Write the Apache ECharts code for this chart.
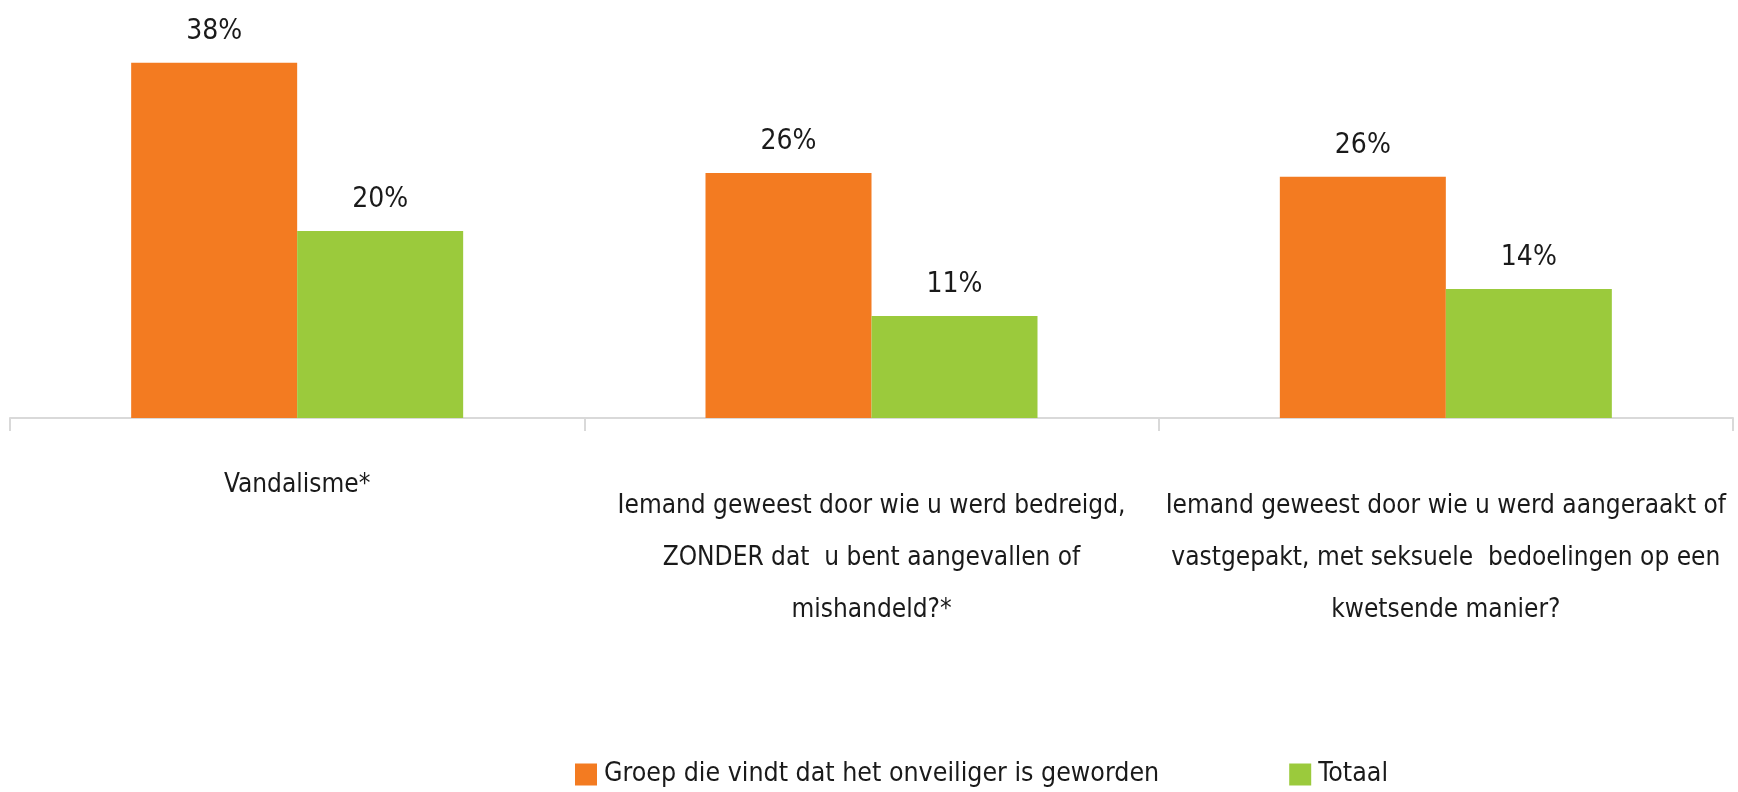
<!DOCTYPE html>
<html>
<head>
<meta charset="utf-8">
<script src="https://cdn.jsdelivr.net/npm/echarts@6/dist/echarts.min.js"></script>
<style>
  html, body { margin: 0; padding: 0; background: #fff; }
  #chart { width: 1738px; height: 792px; }
</style>
</head>
<body>
<div id="chart"></div>
<script>
// categories (line breaks as in the original chart)
var categories = [
  'Vandalisme*',
  'Iemand geweest door wie u werd bedreigd,\nZONDER dat  u bent aangevallen of\nmishandeld?*',
  'Iemand geweest door wie u werd aangeraakt of\nvastgepakt, met seksuele  bedoelingen op een\nkwetsende manier?'
];
var seriesNames = ['Groep die vindt dat het onveiliger is geworden', 'Totaal'];
var groepValues = [38, 26.2, 25.8];
var totaalValues = [20, 10.9, 13.8];

var FONT = '"Liberation Sans Narrow", "DejaVu Sans Condensed", sans-serif';

var chart = echarts.init(document.getElementById('chart'));

var labelOpt = {
  show: true,
  position: 'top',
  distance: 17,
  fontFamily: FONT,
  fontSize: 28,
  color: '#1a1a1a',
  formatter: function (p) { return Math.round(p.value) + '%'; }
};

var option = {
  animation: false,
  grid: { left: 10, right: 5, top: 44, bottom: 374, containLabel: false, outerBoundsMode: 'none' },
  legend: {
    data: seriesNames,
    left: 570,
    top: 756,
    itemWidth: 22,
    itemHeight: 22,
    itemGap: 130,
    icon: 'rect',
    textStyle: { fontFamily: FONT, fontSize: 26.5, color: '#1a1a1a', padding: [0, 0, 0, 2] }
  },
  xAxis: {
    type: 'category',
    data: categories.map(function (c, i) {
      // single-line label sits a bit higher in the original
      return i === 0 ? { value: c, textStyle: { lineHeight: 10 } } : c;
    }),
    axisLine: { lineStyle: { color: '#d9d9d9', width: 2 } },
    axisTick: { show: true, length: 13, lineStyle: { color: '#d9d9d9', width: 2 } },
    axisLabel: {
      interval: 0,
      margin: 62,
      fontFamily: FONT,
      fontSize: 26,
      lineHeight: 52,
      color: '#1a1a1a',
      align: 'center'
    }
  },
  yAxis: {
    type: 'value',
    min: 0,
    max: 40,
    show: false,
    splitLine: { show: false }
  },
  series: [
    {
      name: seriesNames[0],
      type: 'bar',
      data: groepValues,
      barWidth: 166,
      barGap: '0%',
      itemStyle: { color: '#f37b21' },
      label: labelOpt
    },
    {
      name: seriesNames[1],
      type: 'bar',
      data: totaalValues,
      barWidth: 166,
      barGap: '0%',
      itemStyle: { color: '#9bca3c' },
      label: labelOpt
    }
  ]
};

chart.setOption(option);
</script>
</body>
</html>
